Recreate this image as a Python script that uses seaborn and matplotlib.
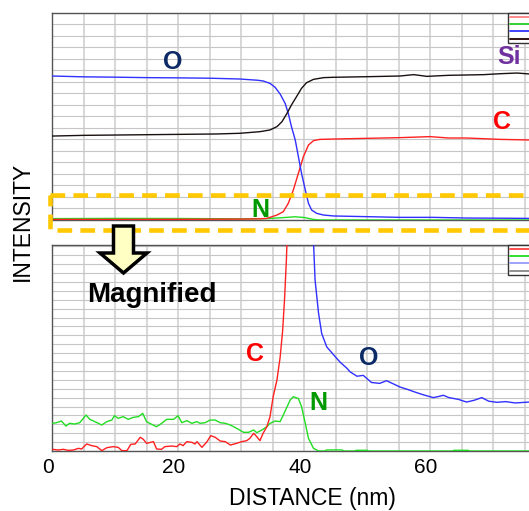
import numpy as np
import pandas as pd
import matplotlib
matplotlib.use('Agg')
import matplotlib.pyplot as plt
import seaborn as sns
from matplotlib.lines import Line2D
from matplotlib.patches import Rectangle, FancyArrow
from matplotlib.transforms import Affine2D, ScaledTranslation

# ---------------- data ----------------
# Top panel (full scale), y in grid divisions
top_o_x = [0, 5, 10, 15, 20, 25, 29.8, 32.7, 33.5, 34.6, 35.4, 36.2, 37.0, 37.5, 38.0, 38.6, 39.1,
           39.6, 40.2, 40.7, 41.2, 42.0, 43.1, 44.7, 50, 55.2, 60.5, 65.8, 70, 75.7]
top_o_y = [12.52, 12.45, 12.42, 12.38, 12.36, 12.33, 12.26, 12.15, 12.09, 11.88, 11.54, 10.96, 10.14,
           9.27, 8.12, 6.96, 5.51, 4.06, 2.61, 1.45, 0.87, 0.58, 0.43, 0.35, 0.29, 0.23, 0.23, 0.17, 0.16, 0.14]

top_si_x = [0, 5, 10.3, 15.5, 20.8, 26.1, 29.8, 33.0, 34.6, 35.7, 36.5, 37.3, 38.0, 38.8, 39.6, 40.4,
            41.5, 43.1, 44.7, 49.9, 55.2, 57.4, 59.5, 62.9, 65.8, 68.5, 71.1, 73.8, 75.7]
top_si_y = [7.30, 7.36, 7.39, 7.42, 7.45, 7.48, 7.54, 7.68, 7.83, 8.12, 8.55, 9.28, 10.0, 10.72, 11.45,
            11.94, 12.23, 12.38, 12.41, 12.46, 12.52, 12.64, 12.49, 12.58, 12.61, 12.64, 12.72, 12.78, 12.70]

top_c_x = [0, 10, 20, 30, 33.0, 34.1, 35.7, 36.7, 37.5, 38.3, 39.1, 39.9, 40.7, 41.5, 42.5, 44.7,
           49.9, 55.2, 60.0, 62.9, 65.8, 68.5, 71.1, 75.7]
top_c_y = [0.05, 0.05, 0.06, 0.08, 0.1, 0.14, 0.43, 0.72, 1.45, 2.61, 4.06, 5.51, 6.52, 6.9, 7.01, 7.04,
           7.1, 7.16, 7.25, 7.13, 7.13, 7.07, 7.01, 6.96]

top_n_x = [0, 10, 20, 30, 34, 36.5, 38.5, 40, 41.5, 42.5, 75.7]
top_n_y = [0.12, 0.14, 0.13, 0.1, 0.12, 0.2, 0.28, 0.22, 0.05, 0.0, 0.0]

# Bottom panel (magnified), y in grid divisions
bot_c_x = [0.1, 1.0, 1.8, 2.6, 3.4, 4.2, 4.7, 5.5, 6.3, 7.1, 7.9, 8.7, 9.7, 10.5, 11.1, 11.9, 12.5, 13.2,
           14.0, 14.5, 15.0, 16.1, 16.6, 17.4, 17.9, 19.0, 19.8, 20.3, 20.8, 21.4, 22.2, 22.7, 23.0, 23.8,
           24.6, 25.2, 25.9, 26.7, 27.5, 28.3, 29.3, 30.1, 30.9, 31.4, 32.0, 32.5, 33.0, 33.5, 34.1, 34.6,
           35.1, 35.7, 36.2, 36.6, 36.9, 37.2, 37.5]
bot_c_y = [0.19, 0.11, 0.19, 0.07, 0.11, 0.30, 0.22, 0.79, 0.60, 0.49, 0.04, 0.37, 0.49, 0.41, 0.04, 0.04,
           0.75, 0.79, 1.54, 1.31, 0.86, 1.05, 0.22, 0.19, 0.49, 0.56, 0.49, 0.79, 0.60, 1.05, 0.97, 0.79,
           1.05, 0.41, 1.05, 1.72, 1.54, 1.12, 1.05, 0.67, 0.86, 1.05, 1.16, 1.42, 1.99, 1.61, 1.16, 1.99,
           2.73, 3.86, 6.10, 7.98, 10.5, 13.5, 17.0, 21.5, 28.0]

bot_n_x = [0.1, 0.7, 1.5, 2.2, 2.8, 3.6, 4.4, 5.4, 6.0, 6.8, 7.9, 8.7, 9.5, 9.9, 10.5, 11.3, 12.1, 12.9,
           13.7, 14.4, 15.0, 15.8, 16.6, 17.4, 18.2, 19.3, 20.0, 20.6, 21.4, 22.2, 23.0, 23.5, 24.3, 25.1,
           25.9, 26.7, 27.5, 28.3, 29.3, 30.4, 31.2, 32.0, 32.5, 33.3, 34.1, 34.6, 35.4, 36.2,
           36.7, 37.8, 38.3, 39.1, 39.6, 40.2, 40.7, 41.5, 42.3, 43.3, 43.6, 46.0, 46.3, 48.0, 48.3, 50.0,
           50.3, 63.5, 63.8, 66.0, 66.3, 75.7]
bot_n_y = [3.11, 3.18, 3.37, 2.81, 3.11, 3.03, 3.18, 4.04, 3.56, 3.30, 2.92, 3.30, 3.48, 3.97, 3.67, 3.86,
           3.56, 3.78, 3.86, 4.23, 3.30, 3.00, 2.73, 3.11, 3.56, 3.56, 3.97, 3.18, 3.41, 3.11, 3.30, 3.11,
           3.18, 3.48, 3.48, 3.18, 3.11, 2.92, 2.55, 2.10, 2.10, 2.36, 2.06, 2.36, 2.73, 3.11, 3.37, 3.30,
           4.04, 5.73, 6.10, 5.90, 5.00, 3.10, 1.43, 0.30, 0.0, 0.0, 0.12, 0.12, 0.0, 0.0, 0.08, 0.08,
           0.0, 0.0, 0.08, 0.08, 0.0, 0.0]

bot_o_x = [41.3, 41.5, 41.75, 42.3, 42.8, 43.6, 44.7, 45.7, 46.8, 47.3, 48.4, 49.4, 50.7, 52.0, 53.1,
           54.0, 55.2, 56.5, 57.9, 59.0, 60.5, 61.2, 62.1, 63.0, 64.5, 65.8, 67.0, 68.2, 69.3, 70.6,
           72.0, 73.5, 75.7]
bot_o_y = [35, 23.5, 19.2, 15.5, 13.2, 11.7, 10.8, 10.0, 9.3, 8.9, 8.4, 8.5, 7.7, 7.6, 7.9, 7.6, 7.2,
           6.9, 6.55, 6.3, 6.0, 6.1, 6.26, 6.0, 5.8, 5.5, 5.7, 6.0, 5.6, 5.47, 5.55, 5.4, 5.5]

x_ticks = [0, 20, 40, 60]
x_tick_labels = ['0', '20', '40', '60']

# ---------------- styling ----------------
sns.set_style('white')
plt.rcParams['font.family'] = ['Liberation Sans', 'DejaVu Sans']
plt.rcParams['text.color'] = 'black'
plt.rcParams['axes.labelcolor'] = 'black'
plt.rcParams['xtick.color'] = 'black'
plt.rcParams['ytick.color'] = 'black'

W, H = 529, 511
fig = plt.figure(figsize=(W / 100, H / 100), dpi=100)
px = Affine2D().scale(1.0 / W, -1.0 / H).translate(0, 1) + fig.transFigure


def axrect(l, t, r, b):
    return [l / W, 1 - b / H, (r - l) / W, (b - t) / H]


ax_top = fig.add_axes(axrect(52, 13, 529, 220))
ax_bot = fig.add_axes(axrect(52, 245, 529, 451))


def style(ax, ymax, show_x):
    ax.set_xlim(0, 75.7)
    ax.set_ylim(0, ymax)
    ax.set_xticks(x_ticks)
    ax.set_xticks(np.arange(0, 76, 5), minor=True)
    ax.set_yticks(np.arange(0, ymax + 0.01, 1))
    ax.yaxis.set_ticklabels([])
    ax.grid(True, axis='x', which='both', color='#d4d4d4', lw=1.3)
    ax.grid(True, axis='y', which='major', color='#c6c6c6', lw=0.8)
    ax.set_axisbelow(True)
    ax.spines['right'].set_visible(False)
    for s in ['left', 'bottom', 'top']:
        ax.spines[s].set_color('#555555')
        ax.spines[s].set_linewidth(1.0)
    ax.tick_params(axis='y', length=2.5, width=0.6, color='#666666', direction='out', pad=1)
    ax.tick_params(axis='x', which='both', length=0)
    if show_x:
        ax.set_xticklabels(x_tick_labels, fontsize=15, color='black')
        ax.tick_params(axis='x', pad=5)
        for lbl in ax.get_xticklabels():
            lbl.set_transform(lbl.get_transform() + ScaledTranslation(-4 / 100, 0, fig.dpi_scale_trans))
    else:
        ax.xaxis.set_ticklabels([])


style(ax_top, 18, False)
style(ax_bot, 23.15, True)

LW = 1.0
# top panel lines
sns.lineplot(x=top_n_x, y=top_n_y, ax=ax_top, color='#22dd22', lw=LW, estimator=None, sort=False, zorder=3)
sns.lineplot(x=top_c_x, y=top_c_y, ax=ax_top, color='#ff2020', lw=LW, estimator=None, sort=False, zorder=3)
sns.lineplot(x=top_o_x, y=top_o_y, ax=ax_top, color='#3030ff', lw=LW, estimator=None, sort=False, zorder=3)
sns.lineplot(x=top_si_x, y=top_si_y, ax=ax_top, color='#1a1010', lw=LW, estimator=None, sort=False, zorder=3)

# bottom panel lines
sns.lineplot(x=bot_n_x, y=bot_n_y, ax=ax_bot, color='#22dd22', lw=LW, estimator=None, sort=False, zorder=3)
sns.lineplot(x=bot_c_x, y=bot_c_y, ax=ax_bot, color='#ff2020', lw=LW, estimator=None, sort=False, zorder=3)
sns.lineplot(x=bot_o_x, y=bot_o_y, ax=ax_bot, color='#3030ff', lw=LW, estimator=None, sort=False, zorder=3)

for ax in (ax_top, ax_bot):
    ax.set_xlabel('')
    ax.set_ylabel('')


def small_legend(ax, colors):
    handles = [Line2D([], [], color=c, lw=1.3) for c in colors]
    leg = ax.legend(handles, ['', '', '', ''], loc='upper left', bbox_to_anchor=((508 - 52) / 477, 1.0),
                    borderaxespad=0, fontsize=4, handlelength=6, handleheight=0.5, labelspacing=0.4,
                    handletextpad=0, borderpad=0.3, frameon=True, fancybox=False, framealpha=1)
    leg.get_frame().set_edgecolor('#333333')
    leg.get_frame().set_linewidth(1.0)
    leg.set_zorder(6)


small_legend(ax_top, ['#ff8080', '#22cc22', '#3333ff', '#200000'])
small_legend(ax_bot, ['#ff4040', '#22dd22', '#9999ff', '#888888'])

# element labels
lab = dict(fontsize=18, fontweight='bold', ha='center', va='center', zorder=7)
NAVY = '#0b2a66'
ax_top.text(19.2, 13.7, 'O', color=NAVY, **lab)
ax_top.text(72.5, 14.2, 'Si', color='#7030a0', **lab)
ax_top.text(71.4, 8.5, 'C', color='#ff0000', **lab)
ax_top.text(33.0, 0.9, 'N', color='#009a00', **lab)
ax_bot.text(32.2, 10.9, 'C', color='#ff0000', **lab)
ax_bot.text(50.2, 10.5, 'O', color=NAVY, **lab)
ax_bot.text(42.2, 5.4, 'N', color='#009a00', **lab)

# axis titles
fig.text(22, 221, 'INTENSITY', transform=px, rotation=90, ha='center', va='center', fontsize=16.5,
         color='black')
fig.text(312, 499, 'DISTANCE (nm)', transform=px, ha='center', va='center', fontsize=16.5, color='black')

# yellow dashed "magnify" box
rect = Rectangle((50, 195), 600, 35.5, transform=px, fill=False, edgecolor='#ffc800', lw=3.3,
                 linestyle=(0, (3.2, 1.8)), clip_on=False, zorder=8)
fig.add_artist(rect)

# arrow
arrow = FancyArrow(123.5, 226, 0, 47, width=20, head_width=47, head_length=20, length_includes_head=True,
                   transform=px, facecolor='#ffffc4', edgecolor='black', lw=2.5, joinstyle='miter',
                   zorder=9, clip_on=False)
fig.add_artist(arrow)

fig.text(87, 302, 'Magnified', transform=px, ha='left', va='baseline', fontsize=20, fontweight='bold',
         color='black', zorder=9)

fig.savefig('out.png', dpi=100)
